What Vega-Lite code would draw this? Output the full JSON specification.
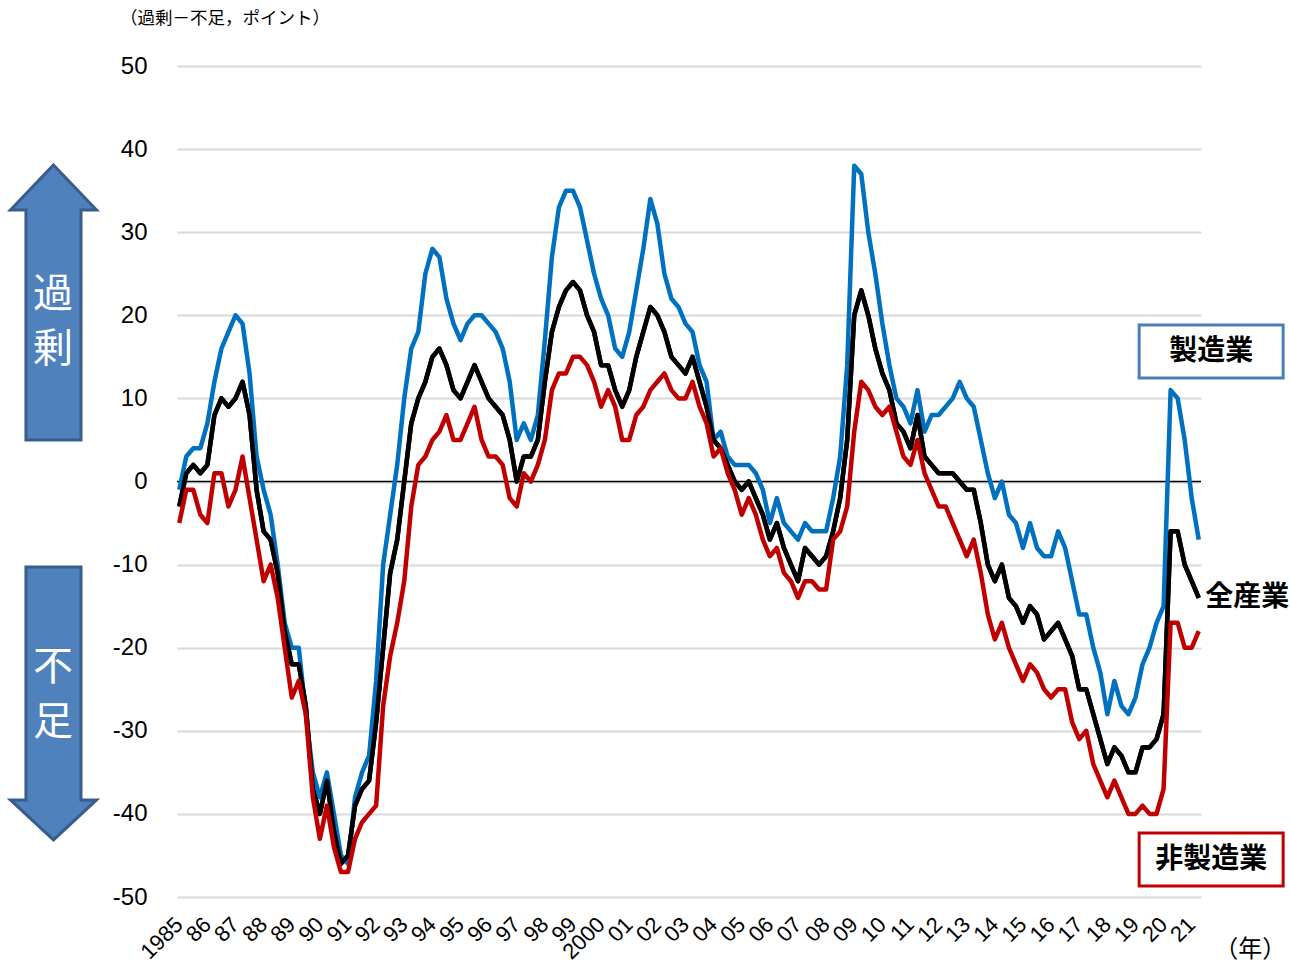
{
  "$schema": "https://vega.github.io/schema/vega-lite/v6.json",
  "width": 1024,
  "height": 831,
  "autosize": {"type": "none"},
  "padding": {"left": 177, "top": 66, "right": 89, "bottom": 69},
  "background": "white",
  "config": {"view": {"stroke": null}, "font": "Liberation Sans"},
  "datasets": {
    "dilist": [
      {"t":1985,"mfg":-1,"all":-3,"non":-5},
      {"t":1985.25,"mfg":3,"all":1,"non":-1},
      {"t":1985.5,"mfg":4,"all":2,"non":-1},
      {"t":1985.75,"mfg":4,"all":1,"non":-4},
      {"t":1986,"mfg":7,"all":2,"non":-5},
      {"t":1986.25,"mfg":12,"all":8,"non":1},
      {"t":1986.5,"mfg":16,"all":10,"non":1},
      {"t":1986.75,"mfg":18,"all":9,"non":-3},
      {"t":1987,"mfg":20,"all":10,"non":-1},
      {"t":1987.25,"mfg":19,"all":12,"non":3},
      {"t":1987.5,"mfg":13,"all":8,"non":-2},
      {"t":1987.75,"mfg":3,"all":-1,"non":-7},
      {"t":1988,"mfg":-1,"all":-6,"non":-12},
      {"t":1988.25,"mfg":-4,"all":-7,"non":-10},
      {"t":1988.5,"mfg":-10,"all":-11,"non":-14},
      {"t":1988.75,"mfg":-17,"all":-18,"non":-20},
      {"t":1989,"mfg":-20,"all":-22,"non":-26},
      {"t":1989.25,"mfg":-20,"all":-22,"non":-24},
      {"t":1989.5,"mfg":-28,"all":-27,"non":-28},
      {"t":1989.75,"mfg":-35,"all":-37,"non":-38},
      {"t":1990,"mfg":-38,"all":-40,"non":-43},
      {"t":1990.25,"mfg":-35,"all":-36,"non":-39},
      {"t":1990.5,"mfg":-40,"all":-42,"non":-44},
      {"t":1990.75,"mfg":-45,"all":-46,"non":-47},
      {"t":1991,"mfg":-46,"all":-45,"non":-47},
      {"t":1991.25,"mfg":-38,"all":-39,"non":-43},
      {"t":1991.5,"mfg":-35,"all":-37,"non":-41},
      {"t":1991.75,"mfg":-33,"all":-36,"non":-40},
      {"t":1992,"mfg":-24,"all":-29,"non":-39},
      {"t":1992.25,"mfg":-10,"all":-20,"non":-27},
      {"t":1992.5,"mfg":-4,"all":-11,"non":-21},
      {"t":1992.75,"mfg":2,"all":-7,"non":-17},
      {"t":1993,"mfg":10,"all":0,"non":-12},
      {"t":1993.25,"mfg":16,"all":7,"non":-3},
      {"t":1993.5,"mfg":18,"all":10,"non":2},
      {"t":1993.75,"mfg":25,"all":12,"non":3},
      {"t":1994,"mfg":28,"all":15,"non":5},
      {"t":1994.25,"mfg":27,"all":16,"non":6},
      {"t":1994.5,"mfg":22,"all":14,"non":8},
      {"t":1994.75,"mfg":19,"all":11,"non":5},
      {"t":1995,"mfg":17,"all":10,"non":5},
      {"t":1995.25,"mfg":19,"all":12,"non":7},
      {"t":1995.5,"mfg":20,"all":14,"non":9},
      {"t":1995.75,"mfg":20,"all":12,"non":5},
      {"t":1996,"mfg":19,"all":10,"non":3},
      {"t":1996.25,"mfg":18,"all":9,"non":3},
      {"t":1996.5,"mfg":16,"all":8,"non":2},
      {"t":1996.75,"mfg":12,"all":5,"non":-2},
      {"t":1997,"mfg":5,"all":0,"non":-3},
      {"t":1997.25,"mfg":7,"all":3,"non":1},
      {"t":1997.5,"mfg":5,"all":3,"non":0},
      {"t":1997.75,"mfg":8,"all":5,"non":2},
      {"t":1998,"mfg":17,"all":12,"non":5},
      {"t":1998.25,"mfg":27,"all":18,"non":11},
      {"t":1998.5,"mfg":33,"all":21,"non":13},
      {"t":1998.75,"mfg":35,"all":23,"non":13},
      {"t":1999,"mfg":35,"all":24,"non":15},
      {"t":1999.25,"mfg":33,"all":23,"non":15},
      {"t":1999.5,"mfg":29,"all":20,"non":14},
      {"t":1999.75,"mfg":25,"all":18,"non":12},
      {"t":2000,"mfg":22,"all":14,"non":9},
      {"t":2000.25,"mfg":20,"all":14,"non":11},
      {"t":2000.5,"mfg":16,"all":11,"non":9},
      {"t":2000.75,"mfg":15,"all":9,"non":5},
      {"t":2001,"mfg":18,"all":11,"non":5},
      {"t":2001.25,"mfg":23,"all":15,"non":8},
      {"t":2001.5,"mfg":28,"all":18,"non":9},
      {"t":2001.75,"mfg":34,"all":21,"non":11},
      {"t":2002,"mfg":31,"all":20,"non":12},
      {"t":2002.25,"mfg":25,"all":18,"non":13},
      {"t":2002.5,"mfg":22,"all":15,"non":11},
      {"t":2002.75,"mfg":21,"all":14,"non":10},
      {"t":2003,"mfg":19,"all":13,"non":10},
      {"t":2003.25,"mfg":18,"all":15,"non":12},
      {"t":2003.5,"mfg":14,"all":12,"non":9},
      {"t":2003.75,"mfg":12,"all":9,"non":7},
      {"t":2004,"mfg":5,"all":5,"non":3},
      {"t":2004.25,"mfg":6,"all":4,"non":4},
      {"t":2004.5,"mfg":3,"all":2,"non":1},
      {"t":2004.75,"mfg":2,"all":0,"non":-1},
      {"t":2005,"mfg":2,"all":-1,"non":-4},
      {"t":2005.25,"mfg":2,"all":0,"non":-2},
      {"t":2005.5,"mfg":1,"all":-2,"non":-4},
      {"t":2005.75,"mfg":-1,"all":-4,"non":-7},
      {"t":2006,"mfg":-5,"all":-7,"non":-9},
      {"t":2006.25,"mfg":-2,"all":-5,"non":-8},
      {"t":2006.5,"mfg":-5,"all":-8,"non":-11},
      {"t":2006.75,"mfg":-6,"all":-10,"non":-12},
      {"t":2007,"mfg":-7,"all":-12,"non":-14},
      {"t":2007.25,"mfg":-5,"all":-8,"non":-12},
      {"t":2007.5,"mfg":-6,"all":-9,"non":-12},
      {"t":2007.75,"mfg":-6,"all":-10,"non":-13},
      {"t":2008,"mfg":-6,"all":-9,"non":-13},
      {"t":2008.25,"mfg":-2,"all":-6,"non":-7},
      {"t":2008.5,"mfg":3,"all":-2,"non":-6},
      {"t":2008.75,"mfg":14,"all":5,"non":-3},
      {"t":2009,"mfg":38,"all":20,"non":6},
      {"t":2009.25,"mfg":37,"all":23,"non":12},
      {"t":2009.5,"mfg":30,"all":20,"non":11},
      {"t":2009.75,"mfg":25,"all":16,"non":9},
      {"t":2010,"mfg":19,"all":13,"non":8},
      {"t":2010.25,"mfg":14,"all":11,"non":9},
      {"t":2010.5,"mfg":10,"all":7,"non":6},
      {"t":2010.75,"mfg":9,"all":6,"non":3},
      {"t":2011,"mfg":7,"all":4,"non":2},
      {"t":2011.25,"mfg":11,"all":8,"non":5},
      {"t":2011.5,"mfg":6,"all":3,"non":1},
      {"t":2011.75,"mfg":8,"all":2,"non":-1},
      {"t":2012,"mfg":8,"all":1,"non":-3},
      {"t":2012.25,"mfg":9,"all":1,"non":-3},
      {"t":2012.5,"mfg":10,"all":1,"non":-5},
      {"t":2012.75,"mfg":12,"all":0,"non":-7},
      {"t":2013,"mfg":10,"all":-1,"non":-9},
      {"t":2013.25,"mfg":9,"all":-1,"non":-7},
      {"t":2013.5,"mfg":5,"all":-5,"non":-11},
      {"t":2013.75,"mfg":1,"all":-10,"non":-16},
      {"t":2014,"mfg":-2,"all":-12,"non":-19},
      {"t":2014.25,"mfg":0,"all":-10,"non":-17},
      {"t":2014.5,"mfg":-4,"all":-14,"non":-20},
      {"t":2014.75,"mfg":-5,"all":-15,"non":-22},
      {"t":2015,"mfg":-8,"all":-17,"non":-24},
      {"t":2015.25,"mfg":-5,"all":-15,"non":-22},
      {"t":2015.5,"mfg":-8,"all":-16,"non":-23},
      {"t":2015.75,"mfg":-9,"all":-19,"non":-25},
      {"t":2016,"mfg":-9,"all":-18,"non":-26},
      {"t":2016.25,"mfg":-6,"all":-17,"non":-25},
      {"t":2016.5,"mfg":-8,"all":-19,"non":-25},
      {"t":2016.75,"mfg":-12,"all":-21,"non":-29},
      {"t":2017,"mfg":-16,"all":-25,"non":-31},
      {"t":2017.25,"mfg":-16,"all":-25,"non":-30},
      {"t":2017.5,"mfg":-20,"all":-28,"non":-34},
      {"t":2017.75,"mfg":-23,"all":-31,"non":-36},
      {"t":2018,"mfg":-28,"all":-34,"non":-38},
      {"t":2018.25,"mfg":-24,"all":-32,"non":-36},
      {"t":2018.5,"mfg":-27,"all":-33,"non":-38},
      {"t":2018.75,"mfg":-28,"all":-35,"non":-40},
      {"t":2019,"mfg":-26,"all":-35,"non":-40},
      {"t":2019.25,"mfg":-22,"all":-32,"non":-39},
      {"t":2019.5,"mfg":-20,"all":-32,"non":-40},
      {"t":2019.75,"mfg":-17,"all":-31,"non":-40},
      {"t":2020,"mfg":-15,"all":-28,"non":-37},
      {"t":2020.25,"mfg":11,"all":-6,"non":-17},
      {"t":2020.5,"mfg":10,"all":-6,"non":-17},
      {"t":2020.75,"mfg":5,"all":-10,"non":-20},
      {"t":2021,"mfg":-2,"all":-12,"non":-20},
      {"t":2021.25,"mfg":-7,"all":-14,"non":-18}
    ],
    "years": [
      {"year":1985,"label":"1985"},{"year":1986,"label":"86"},{"year":1987,"label":"87"},{"year":1988,"label":"88"},
      {"year":1989,"label":"89"},{"year":1990,"label":"90"},{"year":1991,"label":"91"},{"year":1992,"label":"92"},
      {"year":1993,"label":"93"},{"year":1994,"label":"94"},{"year":1995,"label":"95"},{"year":1996,"label":"96"},
      {"year":1997,"label":"97"},{"year":1998,"label":"98"},{"year":1999,"label":"99"},{"year":2000,"label":"2000"},
      {"year":2001,"label":"01"},{"year":2002,"label":"02"},{"year":2003,"label":"03"},{"year":2004,"label":"04"},
      {"year":2005,"label":"05"},{"year":2006,"label":"06"},{"year":2007,"label":"07"},{"year":2008,"label":"08"},
      {"year":2009,"label":"09"},{"year":2010,"label":"10"},{"year":2011,"label":"11"},{"year":2012,"label":"12"},
      {"year":2013,"label":"13"},{"year":2014,"label":"14"},{"year":2015,"label":"15"},{"year":2016,"label":"16"},
      {"year":2017,"label":"17"},{"year":2018,"label":"18"},{"year":2019,"label":"19"},{"year":2020,"label":"20"},
      {"year":2021,"label":"21"}
    ]
  },
  "data": {"name": "dilist"},
  "layer": [
    {
      "mark": {"type": "line", "strokeWidth": 4.5, "color": "#000000", "strokeJoin": "round"},
      "encoding": {
        "x": {"field": "t", "type": "quantitative",
          "scale": {"domain": [1984.92, 2021.33], "nice": false, "zero": false},
          "axis": {"title": null, "grid": false, "domain": false, "ticks": false, "labels": false}
        },
        "y": {"field": "all", "type": "quantitative",
          "scale": {"domain": [-50, 50], "nice": false, "zero": false},
          "axis": {
            "title": null, "grid": true, "gridColor": "#d9d9d9", "gridWidth": 2,
            "domain": false, "ticks": false,
            "values": [-50,-40,-30,-20,-10,0,10,20,30,40,50],
            "labelExpr": "toString(datum.value)",
            "labelFontSize": 24, "labelColor": "#000000", "labelPadding": 30,
            "labelFont": "Liberation Sans"
          }
        }
      }
    },
    {
      "mark": {"type": "rule", "color": "#000000", "strokeWidth": 1.5},
      "data": {"values": [{}]},
      "encoding": {"y": {"datum": 0, "type": "quantitative", "axis": {"title": null}}}
    },
    {
      "mark": {"type": "line", "strokeWidth": 4.5, "color": "#0070c0", "strokeJoin": "round"},
      "encoding": {
        "x": {"field": "t", "type": "quantitative", "axis": {"title": null}},
        "y": {"field": "mfg", "type": "quantitative", "axis": {"title": null}}
      }
    },
    {
      "mark": {"type": "line", "strokeWidth": 4.5, "color": "#000000", "strokeJoin": "round"},
      "encoding": {
        "x": {"field": "t", "type": "quantitative", "axis": {"title": null}},
        "y": {"field": "all", "type": "quantitative", "axis": {"title": null}}
      }
    },
    {
      "mark": {"type": "line", "strokeWidth": 4.5, "color": "#c00000", "strokeJoin": "round"},
      "encoding": {
        "x": {"field": "t", "type": "quantitative", "axis": {"title": null}},
        "y": {"field": "non", "type": "quantitative", "axis": {"title": null}}
      }
    },
    {
      "data": {"name": "years"},
      "mark": {"type": "text", "angle": -45, "align": "right", "baseline": "middle", "fontSize": 22, "font": "Liberation Sans", "color": "#000000"},
      "encoding": {
        "x": {"field": "year", "type": "quantitative", "axis": {"title": null}},
        "y": {"datum": -52.89, "type": "quantitative", "axis": {"title": null}},
        "text": {"field": "label", "type": "nominal"}
      }
    },
    {
      "data": {"values": [{}]},
      "layer": [
        {
          "mark": {"type": "point", "shape": "M0,-3.198L1,-2.151L0.64,-2.151L0.64,3.198L-0.64,3.198L-0.64,-2.151L-1,-2.151Z", "size": 7396, "filled": true, "fill": "#4f81bd", "stroke": "#385d8a", "strokeWidth": 3, "opacity": 1},
          "encoding": {"x": {"datum": 1980.528, "type": "quantitative", "axis": {"title": null}}, "y": {"datum": 21.54, "type": "quantitative", "axis": {"title": null}}}
        },
        {
          "mark": {"type": "point", "shape": "M-0.64,-3.174L0.64,-3.174L0.64,2.244L1,2.244L0,3.174L-1,2.244L-0.64,2.244Z", "size": 7396, "filled": true, "fill": "#4f81bd", "stroke": "#385d8a", "strokeWidth": 3, "opacity": 1},
          "encoding": {"x": {"datum": 1980.528, "type": "quantitative", "axis": {"title": null}}, "y": {"datum": -26.71, "type": "quantitative", "axis": {"title": null}}}
        },
        {
          "mark": {"type": "text", "text": ["過", "剰"], "lineHeight": 55, "fontSize": 40, "font": "Noto Sans CJK JP", "color": "#ffffff", "align": "center", "baseline": "middle"},
          "encoding": {"x": {"datum": 1980.51, "type": "quantitative", "axis": {"title": null}}, "y": {"datum": 22.44, "type": "quantitative", "axis": {"title": null}}}
        },
        {
          "mark": {"type": "text", "text": ["不", "足"], "lineHeight": 55, "fontSize": 40, "font": "Noto Sans CJK JP", "color": "#ffffff", "align": "center", "baseline": "middle"},
          "encoding": {"x": {"datum": 1980.51, "type": "quantitative", "axis": {"title": null}}, "y": {"datum": -22.44, "type": "quantitative", "axis": {"title": null}}}
        },
        {
          "mark": {"type": "rect", "fill": "#ffffff", "stroke": "#4a7ebb", "strokeWidth": 3},
          "encoding": {
            "x": {"datum": 2019.131, "type": "quantitative", "axis": {"title": null}}, "x2": {"datum": 2024.251},
            "y": {"datum": 18.83, "type": "quantitative", "axis": {"title": null}}, "y2": {"datum": 12.45}
          }
        },
        {
          "mark": {"type": "rect", "fill": "#ffffff", "stroke": "#c00000", "strokeWidth": 3},
          "encoding": {
            "x": {"datum": 2019.131, "type": "quantitative", "axis": {"title": null}}, "x2": {"datum": 2024.251},
            "y": {"datum": -42.3, "type": "quantitative", "axis": {"title": null}}, "y2": {"datum": -48.68}
          }
        },
        {
          "mark": {"type": "text", "text": "製造業", "fontSize": 28, "fontWeight": "bold", "font": "Noto Sans CJK JP", "color": "#000000", "align": "center", "baseline": "middle"},
          "encoding": {"x": {"datum": 2021.691, "type": "quantitative", "axis": {"title": null}}, "y": {"datum": 15.58, "type": "quantitative", "axis": {"title": null}}}
        },
        {
          "mark": {"type": "text", "text": "非製造業", "fontSize": 28, "fontWeight": "bold", "font": "Noto Sans CJK JP", "color": "#000000", "align": "center", "baseline": "middle"},
          "encoding": {"x": {"datum": 2021.691, "type": "quantitative", "axis": {"title": null}}, "y": {"datum": -45.55, "type": "quantitative", "axis": {"title": null}}}
        },
        {
          "mark": {"type": "text", "text": "全産業", "fontSize": 28, "fontWeight": "bold", "font": "Noto Sans CJK JP", "color": "#000000", "align": "left", "baseline": "middle"},
          "encoding": {"x": {"datum": 2021.478, "type": "quantitative", "axis": {"title": null}}, "y": {"datum": -14.02, "type": "quantitative", "axis": {"title": null}}}
        },
        {
          "mark": {"type": "text", "text": "（年）", "fontSize": 24, "font": "Noto Sans CJK JP", "color": "#000000", "align": "center", "baseline": "middle"},
          "encoding": {"x": {"datum": 2023.078, "type": "quantitative", "axis": {"title": null}}, "y": {"datum": -56.38, "type": "quantitative", "axis": {"title": null}}}
        },
        {
          "mark": {"type": "text", "text": "（過剰－不足，ポイント）", "fontSize": 17.5, "font": "Noto Sans CJK JP", "color": "#000000", "align": "left", "baseline": "middle"},
          "encoding": {"x": {"datum": 1982.893, "type": "quantitative", "axis": {"title": null}}, "y": {"datum": 55.66, "type": "quantitative", "axis": {"title": null}}}
        }
      ]
    }
  ]
}
